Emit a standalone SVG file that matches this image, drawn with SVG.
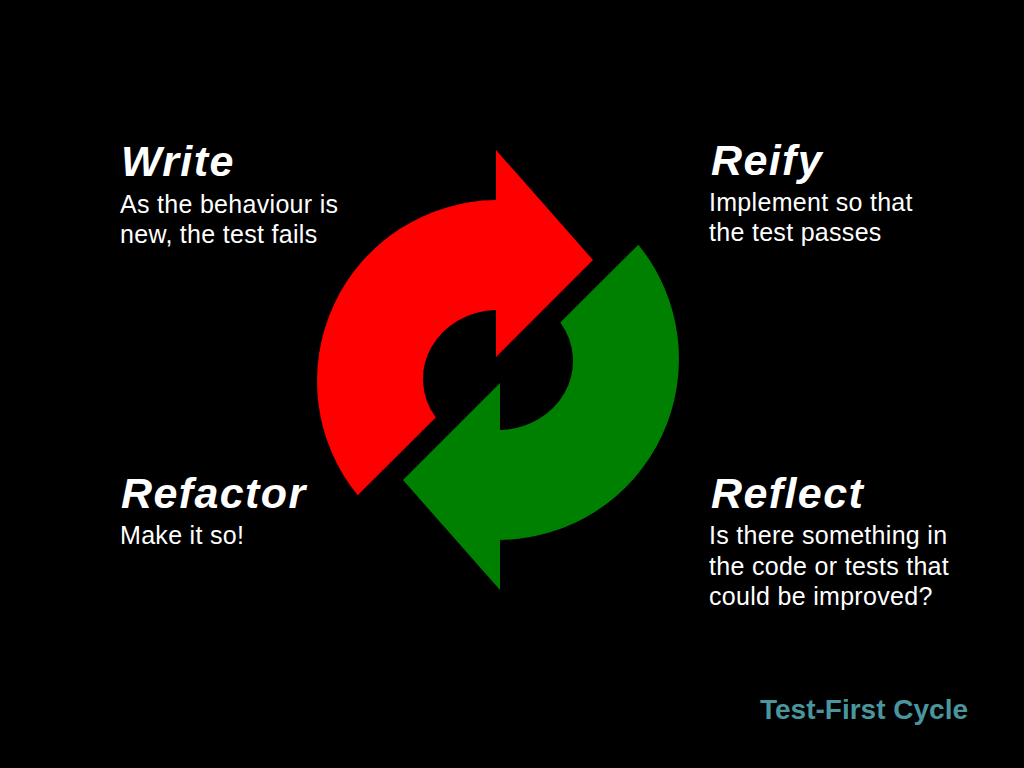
<svg xmlns="http://www.w3.org/2000/svg" width="1024" height="768" viewBox="0 0 1024 768">
  <style>
    .head { font-family: "Liberation Sans", Arial, sans-serif; font-weight: bold; font-style: italic; font-size: 43px; fill: #ffffff; letter-spacing: 1.4px; }
    .body { font-family: "Liberation Sans", Arial, sans-serif; font-size: 25px; fill: #ffffff; letter-spacing: 0.3px; }
    .title { font-family: "Liberation Sans", Arial, sans-serif; font-weight: bold; font-size: 28px; fill: #4a969e; }
  </style>
  <defs>
    <path id="arrowShape" d="M496,150 L593,260 L496,357 L496,310 A75,69 0 0 0 435.7,417.4 L357.7,495.3 A181,181 0 0 1 496,200 Z"/>
  </defs>
  <rect x="0" y="0" width="1024" height="768" fill="#000000"/>

  <g id="connectors">
    <use id="red-arrow" href="#arrowShape" fill="#ff0000"/>
    <use id="green-arrow" href="#arrowShape" fill="#008000" transform="rotate(180 498 370)"/>
  </g>

  <g id="write">
    <text class="head" x="121" y="176">Write</text>
    <text class="body" x="120" y="213">As the behaviour is</text>
    <text class="body" x="120" y="243">new, the test fails</text>
  </g>

  <g id="reify">
    <text class="head" x="711" y="175">Reify</text>
    <text class="body" x="709" y="211">Implement so that</text>
    <text class="body" x="709" y="241">the test passes</text>
  </g>

  <g id="refactor">
    <text class="head" x="121" y="508">Refactor</text>
    <text class="body" x="120" y="544">Make it so!</text>
  </g>

  <g id="reflect">
    <text class="head" x="711" y="508">Reflect</text>
    <text class="body" x="709" y="544">Is there something in</text>
    <text class="body" x="709" y="575">the code or tests that</text>
    <text class="body" x="709" y="605">could be improved?</text>
  </g>

  <g id="caption">
    <text class="title" x="760" y="719">Test-First Cycle</text>
  </g>
</svg>
